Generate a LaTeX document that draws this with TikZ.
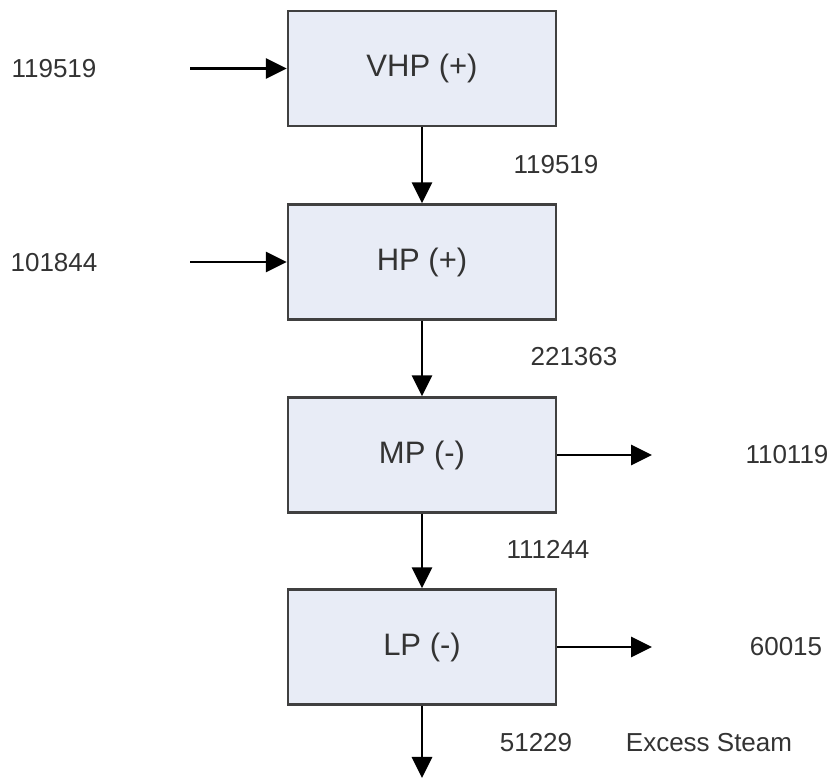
\documentclass[tikz,border=0pt]{standalone}
\usepackage{fontspec}
\setmainfont{Liberation Sans}
\usepackage{xcolor}
\usetikzlibrary{arrows.meta, positioning}

\definecolor{boxfill}{HTML}{E8ECF6}
\definecolor{boxline}{HTML}{404040}
\definecolor{labeltext}{HTML}{333333}

\tikzset{
  stage/.style={draw=boxline, fill=boxfill, line width=1.2pt, minimum width=134pt,
    minimum height=57.5pt, inner sep=0pt, font=\fontsize{15.5}{18}\selectfont, text=labeltext},
  flow/.style={line width=1.4pt, -{Triangle[length=10.5pt, width=10pt]}},
  val/.style={font=\fontsize{13}{15}\selectfont, text=labeltext, inner sep=0pt},
}

\begin{document}
\begin{tikzpicture}[x=0.5pt, y=-0.5pt]

  \useasboundingbox (0,0) rectangle (832,779);

  % ── Stages ──
  \node[stage] (vhp) at (422,68.5) {VHP (+)};
  \node[stage] (hp)  at (422,262)  {HP (+)};
  \node[stage] (mp)  at (422,455)  {MP (-)};
  \node[stage] (lp)  at (422,647)  {LP (-)};

  % ── Inputs ──
  \coordinate (in1) at (190,68.5);
  \coordinate (in2) at (190,262);
  \node[val] (vin1) at (54,69)  {119519};
  \node[val] (vin2) at (54,263) {101844};
  \draw[flow] (in1) -- (vhp.west);
  \draw[flow] (in2) -- (hp.west);

  % ── Between stages ──
  \draw[flow] (vhp) -- (hp);
  \draw[flow] (hp) -- (mp);
  \draw[flow] (mp) -- (lp);
  \node[val] (v12) at (556,165) {119519};
  \node[val] (v23) at (574,357) {221363};
  \node[val] (v34) at (548,549) {111244};

  % ── Outputs ──
  \coordinate (out1) at (652,455);
  \coordinate (out2) at (652,647);
  \coordinate (out3) at (422,778);
  \draw[flow] (mp.east) -- (out1);
  \draw[flow] (lp.east) -- (out2);
  \draw[flow] (lp.south) -- (out3);
  \node[val] (vout1) at (787,455) {110119};
  \node[val] (vout2) at (786,647) {60015};
  \node[val] (vout3) at (536,743) {51229};
  \node[val] (excess) at (709,743) {Excess Steam};

\end{tikzpicture}
\end{document}
